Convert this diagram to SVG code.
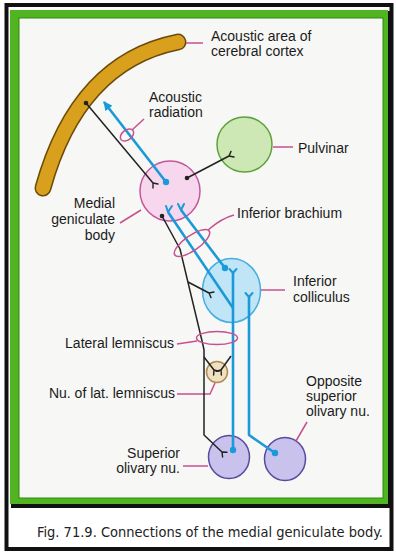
<svg xmlns="http://www.w3.org/2000/svg" width="396" height="552" viewBox="0 0 396 552">
<defs>
<style>
.t{font-family:"Liberation Sans",Arial,sans-serif;font-size:14px;fill:#1b1b1b}
.e{text-anchor:end}
.ld{fill:none;stroke:#c8508e;stroke-width:1.5}
.bl{fill:none;stroke:#1b9ad9;stroke-width:2.6;stroke-linejoin:round}
.bk{fill:none;stroke:#222;stroke-width:1.5;stroke-linejoin:round}
.bt{fill:none;stroke:#1b9ad9;stroke-width:2;stroke-linecap:round;stroke-linejoin:round}
.kt{fill:none;stroke:#222;stroke-width:1.4;stroke-linecap:round;stroke-linejoin:round}
.bd{fill:#1b9ad9}
.kd{fill:#222}
</style>
<marker id="ah" viewBox="0 0 10 10" refX="9" refY="5" markerWidth="10" markerHeight="9" markerUnits="userSpaceOnUse" orient="auto"><path d="M0,0 L10,5 L0,10 z" fill="#1b9ad9"/></marker>
</defs>

<g id="frame">
<rect x="0" y="0" width="396" height="552" fill="#ffffff"/>
<rect x="6.5" y="5" width="385" height="544" fill="none" stroke="#111" stroke-width="4"/>
<rect x="11" y="11" width="381" height="497" fill="#111"/>
<rect x="10" y="10" width="378" height="494" fill="#50b520"/>
<rect x="19" y="18" width="364" height="480" fill="#f7f7f5" stroke="#2f8a10" stroke-width="1"/>
</g>

<g id="cortex">
<path d="M178,42 Q78,62 43,188" fill="none" stroke="#6b4a0a" stroke-width="17" stroke-linecap="round"/>
<path d="M178,42 Q78,62 43,188" fill="none" stroke="#d8a01c" stroke-width="14" stroke-linecap="round"/>
<line class="ld" x1="186" y1="43" x2="203" y2="43"/>
<text class="t" x="211" y="41">Acoustic area of</text>
<text class="t" x="211" y="56">cerebral cortex</text>
</g>

<g id="pulvinar">
<circle cx="244.5" cy="144.5" r="27.5" fill="#cde8b4" stroke="#5da23c" stroke-width="1.5"/>
<line class="ld" x1="273" y1="147" x2="293" y2="147"/>
<text class="t" x="298" y="153">Pulvinar</text>
</g>

<g id="mgb">
<circle cx="170" cy="191" r="30" fill="#f7d7ee" stroke="#c2589a" stroke-width="1.5"/>
<line class="ld" x1="120" y1="223" x2="141" y2="210"/>
<text class="t e" x="115" y="208">Medial</text>
<text class="t e" x="115" y="224">geniculate</text>
<text class="t e" x="115" y="240">body</text>
</g>

<g id="ic">
<ellipse cx="231.5" cy="290.5" rx="29" ry="32" fill="#bfe5f6" stroke="#45aee0" stroke-width="1.5"/>
<line class="ld" x1="261" y1="290" x2="285" y2="290"/>
<text class="t" x="293" y="286">Inferior</text>
<text class="t" x="293" y="302">colliculus</text>
</g>

<g id="nll">
<circle cx="217" cy="372" r="10.5" fill="#eee0c0" stroke="#b08a50" stroke-width="1.5"/>
<path class="ld" d="M177,394 L210,394 L215,383"/>
<text class="t e" x="175" y="398">Nu. of lat. lemniscus</text>
</g>

<g id="son">
<ellipse cx="229" cy="457" rx="20.5" ry="21.5" fill="#c8c2ec" stroke="#5a4a9e" stroke-width="1.5"/>
<line class="ld" x1="183" y1="466" x2="208" y2="466"/>
<text class="t e" x="180" y="458">Superior</text>
<text class="t e" x="180" y="473">olivary nu.</text>
</g>

<g id="opp-son">
<ellipse cx="285" cy="459" rx="20.5" ry="21.5" fill="#c8c2ec" stroke="#5a4a9e" stroke-width="1.5"/>
<line class="ld" x1="307" y1="422" x2="296" y2="441"/>
<text class="t" x="306" y="386">Opposite</text>
<text class="t" x="306" y="401">superior</text>
<text class="t" x="306" y="416">olivary nu.</text>
</g>

<g id="connectors">
<!-- black fibres -->
<path class="bk" d="M86,103 L153,183"/>
<path class="kt" d="M153,188 L153,183 L158,184"/>
<path class="bk" d="M187,178 L229,156"/>
<path class="kt" d="M234,157 L229,156 L231,151.4"/>
<path class="bk" d="M162,216 L180,249 L203,345 L204,350 L204,435 L222,452"/>
<path class="kt" d="M222.6,457 L222,452 L227,452.3"/>
<path class="bk" d="M188,282 L209,293"/>
<path class="kt" d="M211,297.6 L209,293 L214,292"/>
<path class="bk" d="M204,357 L214,370"/>
<path class="kt" d="M213.6,375 L214,370 L218.8,371.3"/>
<path class="bk" d="M231,356 L221,370"/>
<path class="kt" d="M216.2,371.3 L221,370 L221.4,375"/>
<!-- blue fibres -->
<line class="bl" x1="166" y1="182" x2="104" y2="102" marker-end="url(#ah)"/>
<path class="bl" d="M168,212 L233,308"/>
<path class="bt" d="M166,206 L168,212 L172,206"/>
<path class="bl" d="M225,268 L181,210"/>
<path class="bt" d="M178,204 L181,210 L184,204"/>
<path class="bl" d="M233,273 L233,450"/>
<path class="bt" d="M229.5,269 L233,273 L236.5,269"/>
<path class="bl" d="M249,297 L249,435 L275,453"/>
<path class="bt" d="M245.5,293 L249,297 L252.5,293"/>
<!-- cell bodies -->
<circle class="bd" cx="166" cy="182" r="3.2"/>
<circle class="bd" cx="225" cy="268" r="3.2"/>
<circle class="bd" cx="233" cy="450" r="3.2"/>
<circle class="bd" cx="275" cy="453" r="3.2"/>
<circle class="kd" cx="86" cy="103" r="2.3"/>
<circle class="kd" cx="187" cy="178" r="2.3"/>
<circle class="kd" cx="162" cy="216" r="2.3"/>
<!-- bundle markers -->
<ellipse class="ld" cx="127" cy="135" rx="7.5" ry="5" transform="rotate(-38 127 135)"/>
<path class="ld" d="M144,119 L132,130"/>
<text class="t" x="149" y="102">Acoustic</text>
<text class="t" x="149" y="117">radiation</text>
<ellipse class="ld" cx="192" cy="243" rx="21" ry="7.5" transform="rotate(-35 192 243)"/>
<path class="ld" d="M208,230 Q222,218 234,215"/>
<text class="t" x="237" y="218">Inferior brachium</text>
<ellipse class="ld" cx="217" cy="338" rx="20.5" ry="6.5"/>
<line class="ld" x1="177" y1="344" x2="197" y2="341"/>
<text class="t e" x="174" y="348">Lateral lemniscus</text>
</g>

<text x="37" y="537" font-family="'DejaVu Sans Condensed','DejaVu Sans',sans-serif" font-size="13.5" fill="#222" textLength="346" lengthAdjust="spacingAndGlyphs">Fig. 71.9. Connections of the medial geniculate body.</text>
</svg>
